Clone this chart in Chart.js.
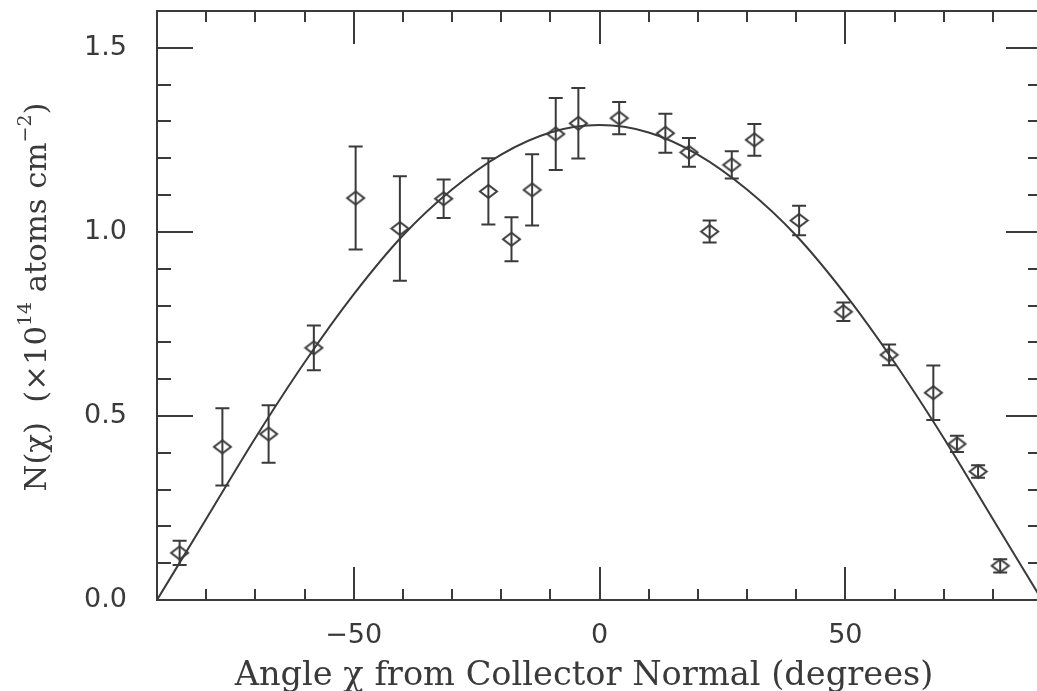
<!DOCTYPE html>
<html>
<head>
<meta charset="utf-8">
<script src="https://cdn.jsdelivr.net/npm/chart.js@4/dist/chart.umd.min.js"></script>
<style>
    html, body { margin: 0; padding: 0; background: #fff; overflow: hidden; }
    #frame { width: 1037px; height: 691px; overflow: hidden; position: relative; }
    #chart { display: block; }
</style>
</head>
<body>
<div id="frame">
    <canvas id="chart" width="1060" height="691"></canvas>
</div>
<script>
// Measured column density vs. angle from collector normal
const angles = [-85.4, -76.7, -67.3, -58.1, -49.6, -40.6, -31.7, -22.6, -17.9, -13.7, -8.9, -4.3,
    4.0, 13.4, 18.2, 22.4, 26.9, 31.5, 40.6, 49.6, 58.9, 67.9, 72.7, 77.0, 81.5];
const nValues = [0.128, 0.416, 0.451, 0.685, 1.092, 1.009, 1.090, 1.110, 0.980, 1.114, 1.266, 1.295,
    1.309, 1.268, 1.216, 1.001, 1.182, 1.250, 1.031, 0.783, 0.666, 0.563, 0.424, 0.349, 0.093];
const nErrors = [0.033, 0.105, 0.078, 0.061, 0.140, 0.142, 0.052, 0.090, 0.060, 0.097, 0.098, 0.096,
    0.044, 0.053, 0.039, 0.030, 0.037, 0.043, 0.040, 0.025, 0.028, 0.074, 0.022, 0.017, 0.018];

// Fitted curve, every 10 degrees
const fitAngles = [-90, -80, -70, -60, -50, -40, -30, -20, -10, 0, 10, 20, 30, 40, 50, 60, 70, 80, 90];
const fitValues = [0, 0.22, 0.44, 0.645, 0.83, 0.99, 1.115, 1.21, 1.27, 1.29, 1.27, 1.21, 1.115, 0.99, 0.83, 0.645, 0.44, 0.22, 0];

// Axis ticks
const xTickLabels = [-50, 0, 50];
const xMinorTicks = [-80, -70, -60, -40, -30, -20, -10, 10, 20, 30, 40, 60, 70, 80];
const yTickLabels = [0, 0.5, 1.0, 1.5];
const yMinorTicks = [0.1, 0.2, 0.3, 0.4, 0.6, 0.7, 0.8, 0.9, 1.1, 1.2, 1.3, 1.4];

const INK = '#3a3a3a';
const TICK_FONT = 'DejaVu Sans';
const TITLE_FONT = 'DejaVu Serif';

// hollow, slightly flattened diamond marker
function makeDiamond() {
    const c = document.createElement('canvas');
    c.width = 21;
    c.height = 17;
    const g = c.getContext('2d');
    g.strokeStyle = INK;
    g.lineWidth = 2;
    g.beginPath();
    g.moveTo(2, 8.5);
    g.lineTo(10.5, 2);
    g.lineTo(19, 8.5);
    g.lineTo(10.5, 15);
    g.closePath();
    g.stroke();
    return c;
}

// frame with inward ticks on all four sides
const frameTicks = {
    id: 'frameTicks',
    afterDatasetsDraw(chart) {
        const { ctx, chartArea: a, scales: { x, y } } = chart;
        ctx.save();
        ctx.strokeStyle = INK;
        ctx.lineWidth = 2;
        ctx.strokeRect(a.left, a.top, a.right - a.left, a.bottom - a.top);
        ctx.beginPath();
        const xTick = (v, len) => {
            const px = Math.round(x.getPixelForValue(v));
            ctx.moveTo(px, a.bottom); ctx.lineTo(px, a.bottom - len);
            ctx.moveTo(px, a.top); ctx.lineTo(px, a.top + len);
        };
        const yTick = (v, len) => {
            const py = Math.round(y.getPixelForValue(v));
            ctx.moveTo(a.left, py); ctx.lineTo(a.left + len, py);
            ctx.moveTo(a.right, py); ctx.lineTo(a.right - len, py);
        };
        xTickLabels.forEach(v => xTick(v, 33));
        xMinorTicks.forEach(v => xTick(v, 11));
        yTickLabels.forEach(v => yTick(v, 36));
        yMinorTicks.forEach(v => yTick(v, 14));
        ctx.stroke();
        ctx.restore();
    }
};

// vertical error bars with caps
const errorBars = {
    id: 'errorBars',
    afterDatasetsDraw(chart) {
        const { ctx, scales: { x, y } } = chart;
        ctx.save();
        ctx.strokeStyle = INK;
        ctx.lineWidth = 2;
        ctx.beginPath();
        angles.forEach((ang, i) => {
            const px = x.getPixelForValue(ang);
            const top = y.getPixelForValue(nValues[i] + nErrors[i]);
            const bot = y.getPixelForValue(nValues[i] - nErrors[i]);
            ctx.moveTo(px, top); ctx.lineTo(px, bot);
            ctx.moveTo(px - 7, top); ctx.lineTo(px + 7, top);
            ctx.moveTo(px - 7, bot); ctx.lineTo(px + 7, bot);
        });
        ctx.stroke();
        ctx.restore();
    }
};

// axis titles (y title needs superscripts)
const axisTitles = {
    id: 'axisTitles',
    afterDraw(chart) {
        const ctx = chart.ctx;
        ctx.save();
        ctx.fillStyle = INK;

        // x title, fitted to the reference width
        const xText = 'Angle \u03c7 from Collector Normal (degrees)';
        ctx.font = `100px "${TITLE_FONT}"`;
        const xSize = 100 * 699 / ctx.measureText(xText).width;
        ctx.font = `${xSize}px "${TITLE_FONT}"`;
        ctx.textAlign = 'center';
        ctx.textBaseline = 'alphabetic';
        ctx.fillText(xText, 584, 685);

        // y title, rotated
        const parts = [
            { t: 'N(', sup: false },
            { t: '\u03c7', sup: false },
            { t: ')  (\u00d710', sup: false },
            { t: '14', sup: true },
            { t: ' atoms cm', sup: false },
            { t: '\u22122', sup: true },
            { t: ')', sup: false }
        ];
        const widthAt = size => parts.reduce((w, p) => {
            ctx.font = `${p.sup ? size * 0.62 : size}px "${TITLE_FONT}"`;
            return w + ctx.measureText(p.t).width;
        }, 0);
        const ySize = 100 * 389 / widthAt(100);
        const total = widthAt(ySize);
        ctx.translate(46, 297);
        ctx.rotate(-Math.PI / 2);
        ctx.textAlign = 'left';
        let cx = -total / 2;
        parts.forEach(p => {
            const size = p.sup ? ySize * 0.62 : ySize;
            ctx.font = `${size}px "${TITLE_FONT}"`;
            ctx.fillText(p.t, cx, p.sup ? -ySize * 0.5 : 0);
            cx += ctx.measureText(p.t).width;
        });
        ctx.restore();
    }
};

new Chart(document.getElementById('chart'), {
    type: 'scatter',
    data: {
        datasets: [
            {
                label: 'fit',
                type: 'line',
                data: fitAngles.map((a, i) => ({ x: a, y: fitValues[i] })),
                borderColor: INK,
                borderWidth: 2,
                pointRadius: 0,
                fill: false,
                cubicInterpolationMode: 'monotone'
            },
            {
                label: 'N',
                data: angles.map((a, i) => ({ x: a, y: nValues[i] })),
                pointStyle: makeDiamond(),
                pointRadius: 8,
                backgroundColor: 'rgba(0,0,0,0)',
                borderColor: INK
            }
        ]
    },
    options: {
        responsive: false,
        animation: false,
        devicePixelRatio: 1,
        layout: { padding: { top: 11, right: 18, left: 0, bottom: 0 } },
        plugins: {
            legend: { display: false },
            tooltip: { enabled: false }
        },
        scales: {
            x: {
                type: 'linear',
                min: -90,
                max: 90,
                grid: { display: false, drawTicks: false },
                border: { display: false },
                afterBuildTicks: s => { s.ticks = xTickLabels.map(v => ({ value: v })); },
                afterFit: s => { s.height = 91; s.paddingLeft = 0; s.paddingRight = 0; },
                ticks: {
                    autoSkip: false,
                    maxRotation: 0,
                    padding: 20,
                    color: INK,
                    font: { family: TICK_FONT, size: 27 },
                    callback: v => (v < 0 ? '\u2212' + Math.abs(v) : String(v))
                }
            },
            y: {
                type: 'linear',
                min: 0,
                max: 1.6,
                grid: { display: false, drawTicks: false },
                border: { display: false },
                afterBuildTicks: s => { s.ticks = yTickLabels.map(v => ({ value: v })); },
                afterFit: s => { s.width = 157; s.paddingTop = 0; s.paddingBottom = 0; },
                ticks: {
                    autoSkip: false,
                    padding: 30,
                    color: INK,
                    font: { family: TICK_FONT, size: 27 },
                    callback: v => Number(v).toFixed(1)
                }
            }
        }
    },
    plugins: [frameTicks, errorBars, axisTitles]
});
</script>
</body>
</html>
